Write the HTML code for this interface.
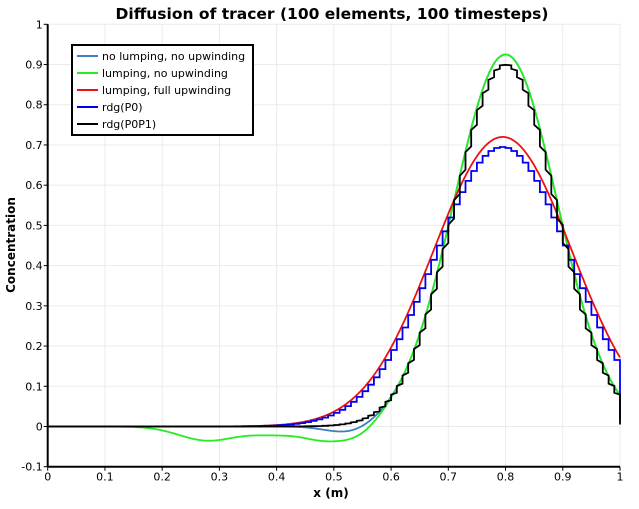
<!DOCTYPE html>
<html><head><meta charset="utf-8"><style>
body{margin:0;background:#fff}
text{font-family:"DejaVu Sans","Liberation Sans",sans-serif}
</style></head><body>
<svg id="s" width="639" height="504" xmlns="http://www.w3.org/2000/svg">
<text x="332" y="19" text-anchor="middle" font-size="15.5" font-weight="bold">Diffusion of tracer (100 elements, 100 timesteps)</text>
<g id="grid" stroke="#ebebeb" stroke-width="1"></g>
<g id="curves" fill="none" stroke-width="1.8"></g>
<g id="axes" font-size="11"></g>
<text x="331" y="497" text-anchor="middle" font-size="12" font-weight="bold">x (m)</text>
<text transform="translate(15,245) rotate(-90)" text-anchor="middle" font-size="12" font-weight="bold">Concentration</text>
<rect x="72" y="45" width="181" height="90" fill="#fff" stroke="#000" stroke-width="2"/>
<g font-size="11">
<line x1="77" y1="56" x2="98" y2="56" stroke="#3d7fc4" stroke-width="2"/><text x="102" y="60">no lumping, no upwinding</text>
<line x1="77" y1="73" x2="98" y2="73" stroke="#22ee22" stroke-width="2"/><text x="102" y="77">lumping, no upwinding</text>
<line x1="77" y1="90" x2="98" y2="90" stroke="#ee1111" stroke-width="2"/><text x="102" y="94">lumping, full upwinding</text>
<line x1="77" y1="107" x2="98" y2="107" stroke="#0000ee" stroke-width="2"/><text x="102" y="111">rdg(P0)</text>
<line x1="77" y1="124" x2="98" y2="124" stroke="#000" stroke-width="2"/><text x="102" y="128">rdg(P0P1)</text>
</g>
</svg>
<script>
const X0=47.7,X1=620,Y0=426.5,DY=402.2;
const px=x=>X0+x*(X1-X0), py=y=>Y0-y*DY;
const ns="http://www.w3.org/2000/svg";
function el(p,t,a){const e=document.createElementNS(ns,t);for(const k in a)e.setAttribute(k,a[k]);p.appendChild(e);return e;}
const g=document.getElementById('grid'),ax=document.getElementById('axes'),cv=document.getElementById('curves');
for(let i=0;i<=10;i++){const x=px(i/10);el(g,'line',{x1:x,y1:py(1),x2:x,y2:py(-0.1)});
 const t=el(ax,'text',{x:x,y:py(-0.1)+14,'text-anchor':'middle'});t.textContent=i==0?'0':i==10?'1':(i/10).toFixed(1);
 el(ax,'line',{x1:x,y1:py(-0.1),x2:x,y2:py(-0.1)+4,stroke:'#000'});}
for(let i=-1;i<=10;i++){const y=py(i/10);el(g,'line',{x1:X0,y1:y,x2:X1,y2:y});
 const t=el(ax,'text',{x:X0-5,y:y+4,'text-anchor':'end'});t.textContent=i==0?'0':i==10?'1':(i/10).toFixed(1);
 el(ax,'line',{x1:X0-4,y1:y,x2:X0,y2:y,stroke:'#000'});}
el(ax,'line',{x1:X0,y1:py(1),x2:X0,y2:py(-0.1),stroke:'#000','stroke-width':2});
el(ax,'line',{x1:X0,y1:py(-0.1),x2:X1,y2:py(-0.1),stroke:'#000','stroke-width':2});
const G=(x,m,s)=>Math.exp(-(x-m)*(x-m)/(2*s*s));
const green=x=>0.925*G(x,0.8,0.09)-0.035*G(x,0.28,0.05)-0.016*G(x,0.39,0.04)-0.036*G(x,0.49,0.045)-0.02*G(x,0.55,0.03);
const lblue=x=>0.925*G(x,0.8,0.09)-0.02*G(x,0.53,0.04);
const red=x=>0.72*G(x,0.795,0.121);
const blueF=x=>0.695*G(x,0.795,0.118);
const blackF=x=>0.9*G(x,0.8,0.089);
function line(f,c){let d='';for(let i=0;i<=500;i++){const x=i/500;d+=(i?'L':'M')+px(x).toFixed(1)+','+py(f(x)).toFixed(1);}el(cv,'path',{d:d,stroke:c});}
function steps(f,c,end,sl){let d='M'+px(0)+','+py(0);for(let i=0;i<100;i++){const v=f((i+0.5)/100);const dv=(f((i+1)/100)-f(i/100))*sl/2;d+='L'+px(i/100).toFixed(1)+','+py(v-dv).toFixed(1)+'L'+px((i+1)/100).toFixed(1)+','+py(v+dv).toFixed(1);}d+='L'+px(1).toFixed(1)+','+py(end).toFixed(1);el(cv,'path',{d:d,stroke:c});}
line(lblue,'#3d7fc4');line(green,'#22ee22');line(red,'#ee1111');
steps(blueF,'#0000ee',0.015,0);steps(blackF,'#000',0.005,0.25);
</script>
</body></html>
